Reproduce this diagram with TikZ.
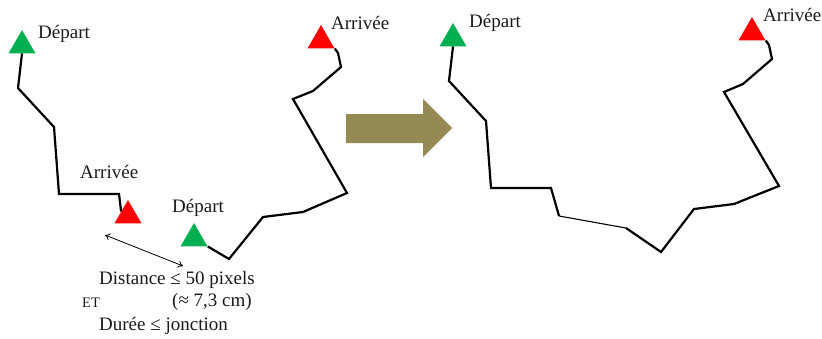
\documentclass[tikz,border=0pt]{standalone}
\usepackage{fontspec}
\setmainfont{Liberation Serif}
\usetikzlibrary{arrows.meta,shapes.geometric}
\definecolor{startgreen}{HTML}{00B050}
\definecolor{endred}{HTML}{FF0000}
\definecolor{mergeolive}{HTML}{948A54}
\definecolor{inktext}{HTML}{1A1A1A}

\begin{document}
\begin{tikzpicture}[
                x=1pt, y=-1pt,
                font=\fontsize{19}{22}\selectfont,
                flag/.style={regular polygon, regular polygon sides=3, minimum size=31pt, inner sep=0pt},
                track/.style={line width=2.2pt, line join=miter},
                lbl/.style={anchor=base west, inner sep=0pt, text=inktext},
                gap/.style={{To[length=5pt,width=7pt]}-{To[length=5pt,width=7pt]}, line width=0.8pt},
            ]
            \useasboundingbox (0,0) rectangle (822,338);
            % before merging
            \node[flag, fill=startgreen] (ld) at (22,45.5) {};
            \node[flag, fill=endred] (la) at (128,215.5) {};
            \node[flag, fill=startgreen] (md) at (194,238.5) {};
            \node[flag, fill=endred] (ma) at (321,40.5) {};
            \node[lbl] (ldtxt) at (38,38) {Départ};
            \node[lbl] (latxt) at (80,178) {Arrivée};
            \node[lbl] (mdtxt) at (172,212) {Départ};
            \node[lbl] (matxt) at (331,29) {Arrivée};
            \draw[track] (ld.side 2) -- (18,88) -- (54,127) -- (59,194) -- (119,194) -- (la.side 1);
            \draw[track] (md.corner 3) -- (229,259) -- (263,217) -- (303,212) -- (347,193) -- (293,99)
                -- (313,91) -- (341,67) -- (338,53) -- (ma.corner 3);
            \coordinate (gapL) at (105,235);
            \coordinate (gapR) at (183,266);
            \draw[gap] (gapL) -- (gapR);
            \node[lbl] (dist) at (99,284) {Distance ≤ 50 pixels};
            \node[lbl, font=\fontsize{14.5}{16}\selectfont] (et) at (82,307) {ET};
            \node[lbl] (cm) at (172,306) {(≈ 7,3 cm)};
            \node[lbl] (dur) at (99,330) {Durée ≤ jonction};
            % merge arrow
            \fill[mergeolive] (346,114) -- (423,114) -- (423,99) -- (452,128) -- (423,157) -- (423,143) -- (346,143) -- cycle;
            % after merging
            \node[flag, fill=startgreen] (rd) at (453,38.5) {};
            \node[flag, fill=endred] (ra) at (752,32.5) {};
            \node[lbl] (rdtxt) at (469,27) {Départ};
            \node[lbl] (ratxt) at (763,21) {Arrivée};
            \draw[track] (rd.side 2) -- (449,81) -- (486,121) -- (491,188) -- (551,188) -- (559,216);
            \draw[line width=1.1pt] (559,216) -- (626,228);
            \draw[track] (626,228) -- (661,252) -- (694,209) -- (734,204) -- (779,186) -- (724,92)
                -- (743,84) -- (772,59) -- (769,45) -- (ra.corner 3);
        \end{tikzpicture}
\end{document}
